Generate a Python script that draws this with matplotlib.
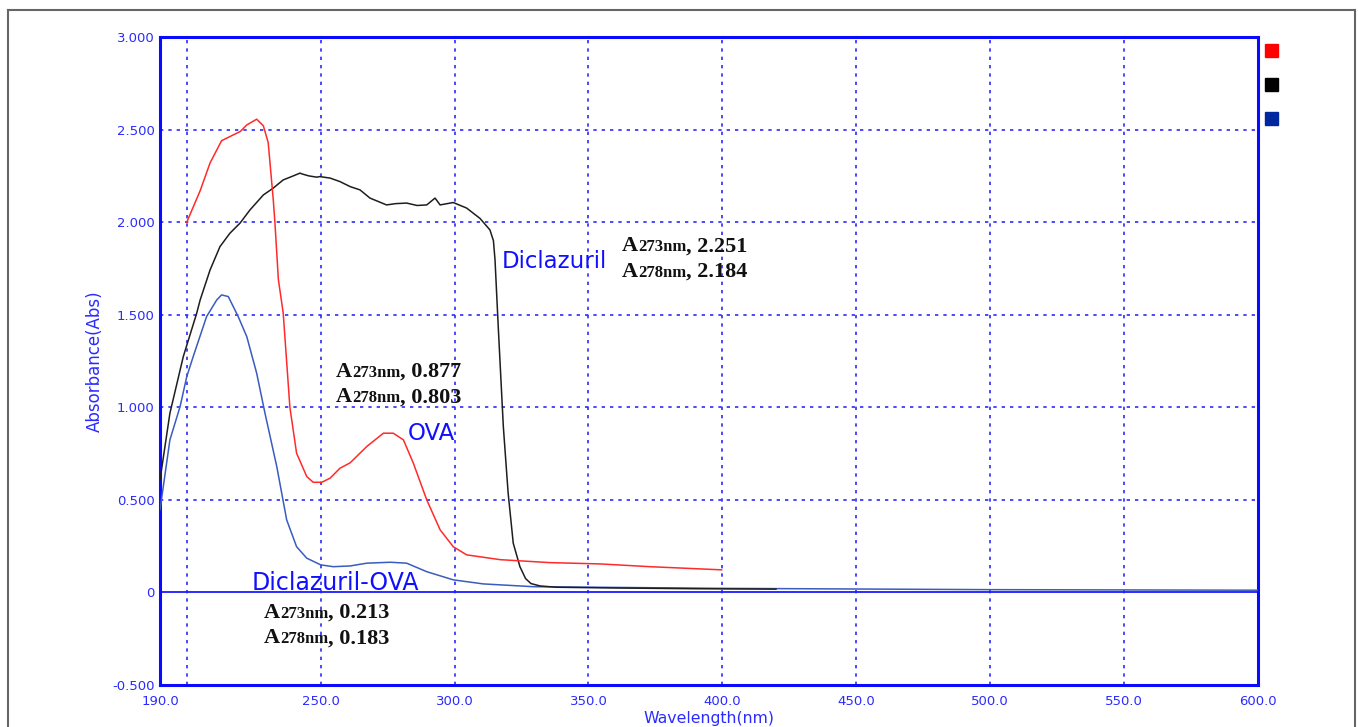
import matplotlib
matplotlib.use("Agg")
import matplotlib.pyplot as plt
from matplotlib.patches import Rectangle
from matplotlib.offsetbox import TextArea, HPacker, VPacker, AnnotationBbox

# ---------------- data ----------------
ova_x = [200, 205, 208.7, 213, 220, 222.4, 226.1, 228.6, 230.4, 232.3, 232.9, 234.2,
         236.0, 238.5, 241.0, 244.8, 247.2, 250.4, 253.5, 257.2, 261, 267.2, 273.4,
         277.1, 280.9, 284.6, 289.6, 294.6, 299.5, 304.5, 317, 335.6, 354.3, 373, 399.7]
ova_y = [2.00, 2.17, 2.32, 2.44, 2.49, 2.525, 2.556, 2.52, 2.43, 2.12, 2.00, 1.69,
         1.51, 1.00, 0.752, 0.626, 0.595, 0.595, 0.617, 0.671, 0.70, 0.788, 0.86,
         0.86, 0.824, 0.698, 0.50, 0.338, 0.247, 0.203, 0.177, 0.161, 0.154, 0.139, 0.122]

dic_x = [190, 193.7, 198.7, 203.7, 205, 208.7, 212.4, 216.1, 219.9, 223.6, 228.6, 232.3,
         236, 239.8, 242.3, 242.9, 245.5, 248.5, 249.7, 253.5, 257.2, 261, 264.7, 268.4,
         274.6, 278, 282.1, 286, 289.6, 292.7, 294.6, 299.5, 304.5, 309.5, 313.2, 314.5,
         315.1, 316.3, 318.2, 320.0, 321.9, 324.4, 326.5, 328.5, 331.9, 338.1, 360, 390, 420]
dic_y = [0.608, 0.968, 1.274, 1.508, 1.58, 1.742, 1.868, 1.94, 1.995, 2.066, 2.147, 2.184,
         2.228, 2.25, 2.265, 2.261, 2.25, 2.243, 2.246, 2.238, 2.219, 2.192, 2.174, 2.13,
         2.093, 2.10, 2.103, 2.09, 2.093, 2.13, 2.093, 2.106, 2.076, 2.02, 1.958, 1.90,
         1.796, 1.436, 0.896, 0.536, 0.266, 0.139, 0.075, 0.048, 0.035, 0.028, 0.024, 0.02, 0.018]

mix_x = [190, 193.7, 197.5, 200, 202.4, 207.4, 211.2, 213, 215.5, 219.2, 222.4, 226.1,
         229.2, 233.6, 237.3, 241, 244.8, 250, 254.7, 261, 267.2, 276, 282.1, 289.6,
         299.5, 310.7, 329.4, 400, 500, 600]
mix_y = [0.446, 0.824, 1.004, 1.166, 1.274, 1.49, 1.58, 1.607, 1.598, 1.49, 1.382, 1.184,
         0.968, 0.68, 0.392, 0.247, 0.185, 0.149, 0.139, 0.143, 0.158, 0.163, 0.158, 0.112,
         0.068, 0.046, 0.031, 0.022, 0.015, 0.012]

x_ticks = [190, 250, 300, 350, 400, 450, 500, 550, 600]
x_tick_labels = ["190.0", "250.0", "300.0", "350.0", "400.0", "450.0", "500.0", "550.0", "600.0"]
x_grid = [200, 250, 300, 350, 400, 450, 500, 550]
y_ticks = [-0.5, 0, 0.5, 1.0, 1.5, 2.0, 2.5, 3.0]
y_tick_labels = ["-0.500", "0", "0.500", "1.000", "1.500", "2.000", "2.500", "3.000"]
y_grid = [0.5, 1.0, 1.5, 2.0, 2.5]

labels = ["Diclazuril", "OVA", "Diclazuril-OVA"]
ann_dic = [("273nm", "2.251"), ("278nm", "2.184")]
ann_ova = [("273nm", "0.877"), ("278nm", "0.803")]
ann_mix = [("273nm", "0.213"), ("278nm", "0.183")]

# ---------------- figure ----------------
W, H = 1358, 727
fig = plt.figure(figsize=(W / 100, H / 100), dpi=100)
ax = fig.add_axes([160 / W, 1 - 685 / H, 1098 / W, 648 / H])

BLUE = "#2b2bff"
ax.set_xlim(190, 600)
ax.set_ylim(-0.5, 3.0)

for gx in x_grid:
    ax.axvline(gx, color=BLUE, lw=1.2, ls=(0, (2, 3)), zorder=1)
for gy in y_grid:
    ax.axhline(gy, color=BLUE, lw=1.2, ls=(0, (2, 3)), zorder=1)
ax.axhline(0, color="#1a1aff", lw=1.3, zorder=2)

ax.plot(mix_x, mix_y, color="#3a5bc0", lw=1.1, zorder=3)
ax.plot(dic_x, dic_y, color="#1e1e1e", lw=1.1, zorder=4)
ax.plot(ova_x, ova_y, color="#ff2a2a", lw=1.1, zorder=5)

for s in ax.spines.values():
    s.set_color("#0a0aff")
    s.set_linewidth(2.2)

ax.set_xticks(x_ticks)
ax.set_xticklabels(x_tick_labels)
ax.set_yticks(y_ticks)
ax.set_yticklabels(y_tick_labels)
ax.tick_params(length=0, colors=BLUE, labelsize=9.5)
ax.tick_params(axis="x", pad=7)
ax.tick_params(axis="y", pad=4)
ax.set_xlabel("Wavelength(nm)", color=BLUE, fontsize=11.3, labelpad=2)
ax.set_ylabel("Absorbance(Abs)", color=BLUE, fontsize=12, labelpad=6)

# curve labels
lab_pos = [(317.7, 1.786), (282.6, 0.858), (224.4, 0.051)]
lab_size = [16.5, 16.5, 17]
for t, (lx, ly), fs in zip(labels, lab_pos, lab_size):
    ax.text(lx, ly, t, color="#1010ff", fontsize=fs, family="DejaVu Sans",
            ha="left", va="center", zorder=6)

# black annotations (Times-like bold, smaller wavelength)
def block(rows):
    lines = []
    for wl, val in rows:
        parts = [TextArea("A", textprops=dict(family="Liberation Serif", weight="bold", size=16, color="#111")),
                 TextArea(wl, textprops=dict(family="Liberation Serif", weight="bold", size=12, color="#111")),
                 TextArea(", " + val, textprops=dict(family="Liberation Serif", weight="bold", size=16, color="#111"))]
        lines.append(HPacker(children=parts, align="baseline", pad=0, sep=0))
    return VPacker(children=lines, align="left", pad=0, sep=4)

for rows, (bx, by) in [(ann_dic, (362.5, 1.80)), (ann_ova, (255.7, 1.124)), (ann_mix, (228.8, -0.178))]:
    ab = AnnotationBbox(block(rows), (bx, by), xycoords="data", frameon=False,
                        box_alignment=(0, 0.5), pad=0, zorder=7)
    ax.add_artist(ab)

# legend squares
for i, c in enumerate(["#ff0000", "#000000", "#0026a0"]):
    y0 = 44 + i * 34
    fig.patches.append(Rectangle((1265 / W, 1 - (y0 + 13) / H), 13 / W, 13 / H,
                                 transform=fig.transFigure, color=c))

# outer frame
fig.add_artist(plt.Line2D([8 / W, 8 / W], [0, 1 - 10 / H], transform=fig.transFigure, color="#666", lw=1.5))
fig.add_artist(plt.Line2D([8 / W, 1355 / W], [1 - 10 / H, 1 - 10 / H], transform=fig.transFigure, color="#666", lw=1.5))
fig.add_artist(plt.Line2D([1355 / W, 1355 / W], [0, 1 - 10 / H], transform=fig.transFigure, color="#666", lw=1.5))

fig.savefig("out.png", dpi=100)
